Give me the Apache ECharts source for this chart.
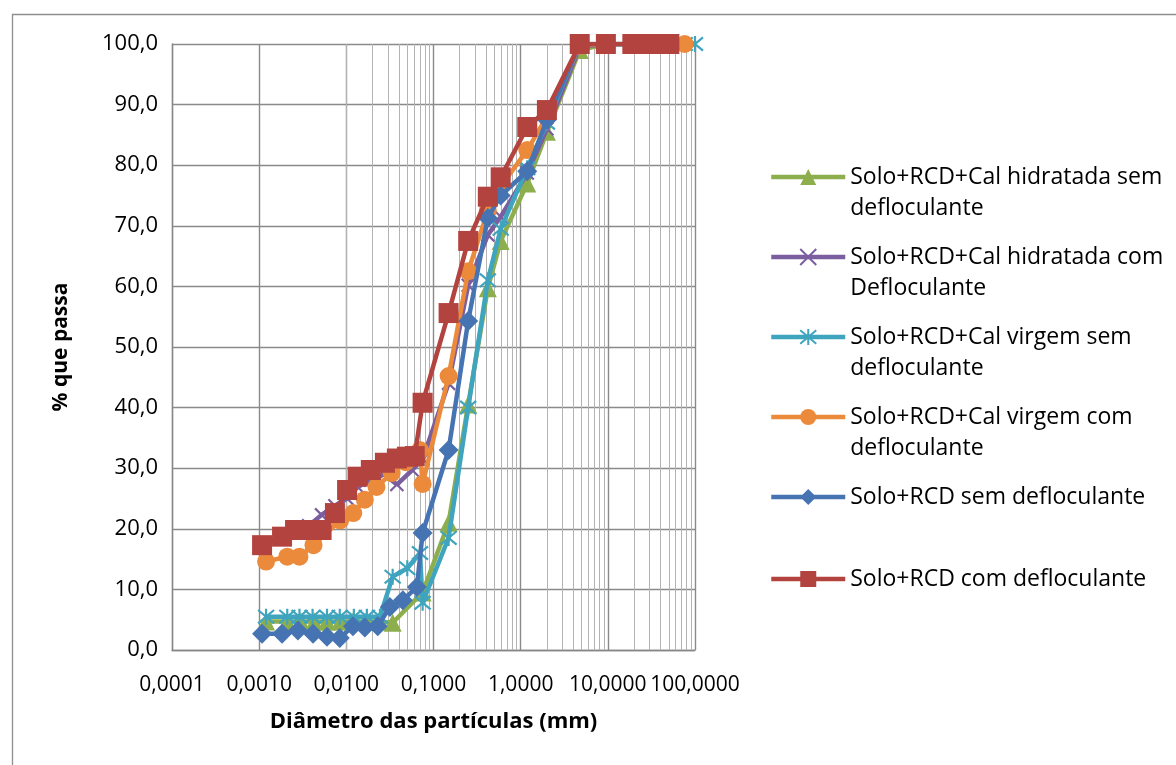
<!DOCTYPE html>
<html><head><meta charset="utf-8">
<script src="https://cdn.jsdelivr.net/npm/echarts@6/dist/echarts.min.js"></script>
<style>html,body{margin:0;padding:0;background:#fff}#c{width:1176px;height:765px}</style>
</head><body><div id="c"></div><script>
// ---- data (diameter in mm, % passing) ----
const seriesNames = [
  "Solo+RCD+Cal hidratada sem defloculante",
  "Solo+RCD+Cal hidratada com Defloculante",
  "Solo+RCD+Cal virgem sem defloculante",
  "Solo+RCD+Cal virgem com defloculante",
  "Solo+RCD sem defloculante",
  "Solo+RCD com defloculante"
];
const legendLines = [
  ["Solo+RCD+Cal hidratada sem", "defloculante"],
  ["Solo+RCD+Cal hidratada com", "Defloculante"],
  ["Solo+RCD+Cal virgem sem", "defloculante"],
  ["Solo+RCD+Cal virgem com", "defloculante"],
  ["Solo+RCD sem defloculante"],
  ["Solo+RCD com defloculante"]
];

const diamHidSem = [50.8, 38.1, 25.4, 19.1, 9.5, 4.76, 2.0, 1.19, 0.59, 0.42, 0.25, 0.149, 0.075, 0.034, 0.0235, 0.0167, 0.0119, 0.0085, 0.0060, 0.0043, 0.0030, 0.0021, 0.0012];
const passHidSem = [100, 100, 100, 100, 100, 99.0, 85.5, 77.0, 67.5, 59.7, 40.5, 21.0, 9.5, 4.5, 4.7, 4.7, 4.7, 4.7, 4.7, 4.7, 4.7, 4.7, 4.7];

const diamHidCom = [50.8, 38.1, 25.4, 19.1, 9.5, 4.76, 2.0, 1.19, 0.59, 0.42, 0.25, 0.149, 0.075, 0.057, 0.038, 0.027, 0.019, 0.0135, 0.0102, 0.0074, 0.0052, 0.0037, 0.0026, 0.0018, 0.0011];
const passHidCom = [100, 100, 100, 100, 100, 99.5, 86.0, 78.7, 71.5, 68.5, 60.2, 44.0, 31.5, 29.7, 27.3, 29.0, 28.0, 26.9, 25.0, 23.8, 22.3, 20.5, 19.5, 18.5, 17.5];

const diamVirSem = [100, 76.2, 50.8, 38.1, 25.4, 19.1, 9.5, 4.76, 2.0, 1.19, 0.59, 0.42, 0.25, 0.149, 0.075, 0.070, 0.050, 0.034, 0.0243, 0.0172, 0.0122, 0.0084, 0.0060, 0.0041, 0.0029, 0.0021, 0.0012];
const passVirSem = [100, 100, 100, 100, 100, 100, 100, 100, 87.0, 79.5, 69.5, 61.0, 40.0, 18.5, 7.8, 16.0, 13.5, 12.1, 5.5, 5.5, 5.5, 5.5, 5.5, 5.5, 5.5, 5.5, 5.5];

const diamVirCom = [76.2, 50.8, 38.1, 25.4, 19.1, 9.5, 4.76, 2.0, 1.19, 0.59, 0.42, 0.25, 0.149, 0.075, 0.0698, 0.048, 0.0331, 0.0222, 0.0163, 0.0120, 0.0085, 0.0042, 0.0029, 0.0021, 0.0012];
const passVirCom = [100, 100, 100, 100, 100, 100, 99.7, 88.0, 82.5, 76.5, 72.5, 62.5, 45.2, 27.4, 33.0, 31.0, 29.2, 26.9, 24.8, 22.6, 21.4, 17.3, 15.4, 15.4, 14.6];

const diamRcdSem = [50.8, 38.1, 25.4, 19.1, 9.5, 4.76, 2.0, 1.19, 0.59, 0.42, 0.25, 0.149, 0.075, 0.0645, 0.0445, 0.0316, 0.0229, 0.0163, 0.0119, 0.0084, 0.0060, 0.00415, 0.00278, 0.00183, 0.00108];
const passRcdSem = [100, 100, 100, 100, 100, 100, 87.5, 79.0, 75.0, 71.3, 54.3, 33.0, 19.3, 10.4, 8.2, 7.1, 3.9, 3.7, 3.9, 2.0, 2.2, 2.7, 3.2, 2.7, 2.7];

const diamRcdCom = [50.8, 38.1, 25.4, 19.1, 9.5, 4.76, 2.0, 1.19, 0.59, 0.42, 0.25, 0.149, 0.075, 0.0609, 0.0495, 0.038, 0.0277, 0.0191, 0.0135, 0.0102, 0.0074, 0.0052, 0.0037, 0.00258, 0.00183, 0.00108];
const passRcdCom = [100, 100, 100, 100, 100, 100, 89.1, 86.3, 78.0, 74.8, 67.5, 55.6, 40.8, 32.0, 31.9, 31.6, 30.9, 29.7, 28.6, 26.4, 22.6, 19.8, 19.8, 19.8, 18.7, 17.3];

const xMin = 0.0001, xMax = 100;
const yMin = 0, yMax = 100, yStep = 10;

// ---- styling ----
const FONT = "'Open Sans', 'Noto Sans', sans-serif";
const colors = ['#8DAE4D', '#7B5E9F', '#3FA4BE', '#EB8A3B', '#4674B2', '#B3433F'];
const symbols = [
  'triangle',
  'path://M0 0L10 10M10 0L0 10',
  'path://M0 0L10 10M10 0L0 10M5 -1L5 11',
  'circle',
  'diamond',
  'rect'
];
const symbolSizes = [18, 13, 16, 18, 20, 20];
const strokeMarker = [false, true, true, false, false, false];
const diams = [diamHidSem, diamHidCom, diamVirSem, diamVirCom, diamRcdSem, diamRcdCom];
const passes = [passHidSem, passHidCom, passVirSem, passVirCom, passRcdSem, passRcdCom];

// minor gridlines of the log axis (2..9 of each decade)
const minorLines = [];
for (let e = Math.log10(xMin); e < Math.log10(xMax); e++) {
  for (let k = 2; k <= 9; k++) minorLines.push({ xAxis: k * Math.pow(10, e) });
}

const series = [{
  name: '__grid', type: 'line', data: [], silent: true, z: 1,
  markLine: {
    silent: true, symbol: ['none', 'none'], label: { show: false }, z: 1,
    lineStyle: { color: '#b3b3b3', width: 1, type: 'solid' },
    emphasis: { disabled: true },
    data: minorLines
  }
}];
seriesNames.forEach((n, i) => {
  series.push({
    name: n, type: 'line',
    data: diams[i].map((d, j) => [d, passes[i][j]]),
    symbol: symbols[i], symbolSize: symbolSizes[i],
    lineStyle: { width: 4.5, color: colors[i] },
    itemStyle: strokeMarker[i]
      ? { color: colors[i], borderColor: colors[i], borderWidth: 2.2 }
      : { color: colors[i], borderWidth: 0 },
    emphasis: { disabled: true },
    z: 2 + i
  });
});

// legends: one per entry so each icon sits on the first text line
const legendIconY = [177, 257, 337, 417, 497, 579];
const LH = 31;
const legends = seriesNames.map((n, i) => {
  const lines = legendLines[i];
  const txt = lines.length > 1 ? '\n' + lines.join('\n') : lines[0];
  const h = lines.length > 1 ? 3 * LH : LH;
  return {
    data: [n], orient: 'vertical', left: 769, top: legendIconY[i] - h / 2,
    padding: 0, itemWidth: 74, itemHeight: 20, selectedMode: false,
    formatter: () => txt,
    textStyle: { fontFamily: FONT, fontSize: 23, color: '#000', lineHeight: LH },
    itemStyle: strokeMarker[i]
      ? { color: colors[i], borderColor: colors[i], borderWidth: 2 }
      : { color: colors[i], borderWidth: 0 },
    lineStyle: { width: 4.5, color: colors[i] }
  };
});

const chart = echarts.init(document.getElementById('c'), null, { renderer: 'canvas' });
chart.setOption({
  animation: false,
  backgroundColor: '#ffffff',
  textStyle: { fontFamily: FONT },
  graphic: [{
    type: 'rect', silent: true, z: -10,
    shape: { x: 12.5, y: 14.5, width: 1400, height: 1000 },
    style: { fill: 'none', stroke: '#8e8e8e', lineWidth: 1.3 }
  }],
  grid: { left: 172, right: 481, top: 44, bottom: 115, containLabel: false, outerBoundsMode: 'none' },
  legend: legends,
  xAxis: {
    type: 'log', logBase: 10, min: xMin, max: xMax, splitNumber: 6,
    name: 'Diâmetro das partículas (mm)', nameLocation: 'middle', nameGap: 61,
    nameTextStyle: { fontFamily: FONT, fontSize: 22, fontWeight: 'bold', color: '#000' },
    axisLine: { show: true, lineStyle: { color: '#868686', width: 1.3 } },
    axisTick: { show: false },
    axisLabel: {
      fontFamily: FONT, fontSize: 21, color: '#000', margin: 25, hideOverlap: false,
      showMinLabel: true, showMaxLabel: true,
      formatter: v => Number(v).toFixed(4).replace('.', ',')
    },
    splitLine: { show: true, lineStyle: { color: '#8a8a8a', width: 1.4 } },
    minorTick: { show: false }, minorSplitLine: { show: false }
  },
  yAxis: {
    type: 'value', min: yMin, max: yMax, interval: yStep,
    name: '% que passa', nameLocation: 'middle', nameGap: 100,
    nameTextStyle: { fontFamily: FONT, fontSize: 21, fontWeight: 'bold', color: '#000' },
    axisLine: { show: true, lineStyle: { color: '#868686', width: 1.3 } },
    axisTick: { show: false },
    axisLabel: {
      fontFamily: FONT, fontSize: 22, color: '#000', margin: 14,
      formatter: v => Number(v).toFixed(1).replace('.', ',')
    },
    splitLine: { show: true, lineStyle: { color: '#8a8a8a', width: 1.4 } }
  },
  series: series
});
</script></body></html>
